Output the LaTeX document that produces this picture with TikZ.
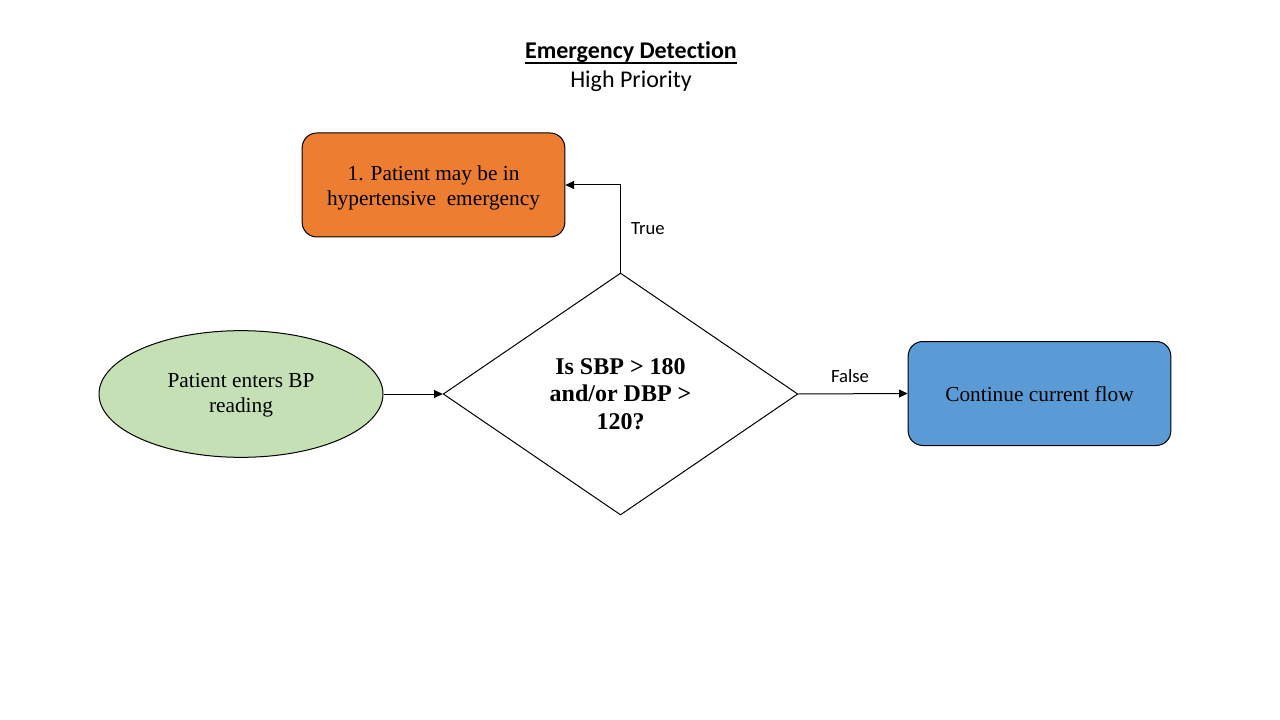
\documentclass[tikz,border=0pt]{standalone}
\usepackage{fontspec}
\setmainfont{Liberation Serif}
\newfontfamily\calib[Ligatures={NoCommon,NoDiscretionary}]{Carlito}
\usetikzlibrary{shapes.geometric,arrows.meta}
\definecolor{orangefill}{HTML}{ED7D31}
\definecolor{greenfill}{HTML}{C5E0B4}
\definecolor{bluefill}{HTML}{5B9BD5}
\tikzset{
  base/.style={draw=black,line width=0.75pt,align=center,inner sep=0pt},
  procbox/.style={base,rounded corners=11pt,minimum width=197pt,minimum height=78pt},
  boxtext/.style={align=center,inner sep=0pt,font=\fontsize{16}{18.8}\selectfont},
  startell/.style={base,ellipse,fill=greenfill,minimum width=213pt,minimum height=95pt},
  decision/.style={base,diamond,aspect=1.467,minimum width=266pt,minimum height=181.5pt,fill=white,font=\bfseries\fontsize{18}{20.7}\selectfont},
  conn/.style={line width=0.75pt,-{Triangle[length=6.5pt,width=6pt]}},
  lbl/.style={font=\calib\fontsize{14}{16}\selectfont,inner sep=0pt},
  ttl/.style={font=\calib\fontsize{18}{21}\selectfont,inner sep=0pt}
}
\begin{document}
\begin{tikzpicture}[x=0.75pt,y=-0.75pt]
\useasboundingbox (0,0) rectangle (1280,720);
\fill[white] (0,0) rectangle (1280,720);
\node[ttl] (title) at (631,52) {\bfseries Emergency Detection};
\draw[line width=1pt] ([yshift=-3.4pt]title.base west) -- ([yshift=-3.4pt]title.base east);
\node[ttl] (sub) at (631,81) {High Priority};
\node[procbox,fill=orangefill] (emerg) at (433.5,185) {};
\node[boxtext] (emergtext) at ([yshift=-2.2pt]emerg.center) {1. Patient may be in\\hypertensive\ \ emergency};
\node[startell] (start) at (241,394) {};
\node[boxtext] (starttext) at ([yshift=-1.2pt]start.center) {Patient enters BP\\reading};
\node[decision] (dec) at (620.5,394) {Is SBP > 180\\and/or DBP >\\120?};
\node[procbox,fill=bluefill] (cont) at (1039.5,393.5) {};
\node[boxtext] (conttext) at ([yshift=-0.8pt]cont.center) {Continue current flow};
\coordinate (corner) at (dec.north |- emerg.east);
\draw[conn] (start.east) -- (dec.west);
\draw[conn] (dec.north) -- (corner) -- (emerg.east);
\draw[conn] (dec.east) -- (cont.west);
\node[lbl] (ltrue) at (648,229) {True};
\node[lbl] (lfalse) at (850,376) {False};
\end{tikzpicture}
\end{document}
